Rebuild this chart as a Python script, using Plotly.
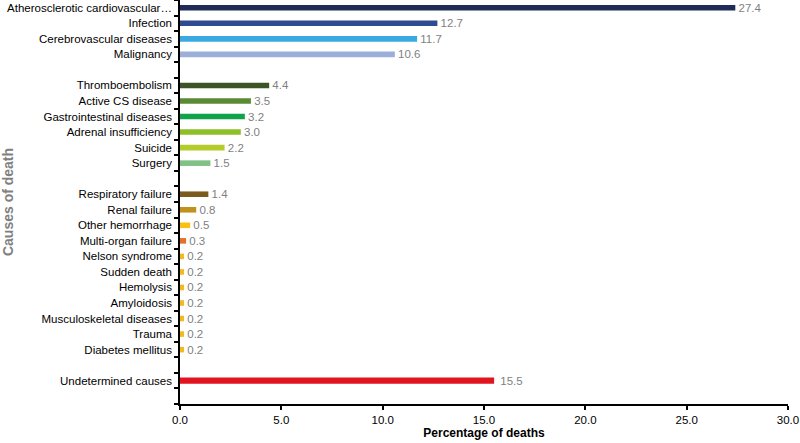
import plotly.graph_objects as go

categories = [
    "Atherosclerotic cardiovascular…", "Infection", "Cerebrovascular diseases", "Malignancy",
    "gap1",
    "Thromboembolism", "Active CS disease", "Gastrointestinal diseases", "Adrenal insufficiency",
    "Suicide", "Surgery",
    "gap2",
    "Respiratory failure", "Renal failure", "Other hemorrhage", "Multi-organ failure",
    "Nelson syndrome", "Sudden death", "Hemolysis", "Amyloidosis", "Musculoskeletal diseases",
    "Trauma", "Diabetes mellitus",
    "gap3",
    "Undetermined causes",
    "gap4",
]

causes = [
    "Atherosclerotic cardiovascular…", "Infection", "Cerebrovascular diseases", "Malignancy",
    "Thromboembolism", "Active CS disease", "Gastrointestinal diseases", "Adrenal insufficiency",
    "Suicide", "Surgery",
    "Respiratory failure", "Renal failure", "Other hemorrhage", "Multi-organ failure",
    "Nelson syndrome", "Sudden death", "Hemolysis", "Amyloidosis", "Musculoskeletal diseases",
    "Trauma", "Diabetes mellitus",
    "Undetermined causes",
]
percent = [27.4, 12.7, 11.7, 10.6,
           4.4, 3.5, 3.2, 3.0, 2.2, 1.5,
           1.4, 0.8, 0.5, 0.3, 0.2, 0.2, 0.2, 0.2, 0.2, 0.2, 0.2,
           15.5]
colors = ["#1f2c57", "#2f4c91", "#3aa9e0", "#9bafd9",
          "#3d5526", "#5b8a35", "#10a34a", "#8dbf26", "#b3cc2a", "#7fc283",
          "#7c5c1e", "#c0911c", "#f7c211", "#e5702a",
          "#f0bb1e", "#f0bb1e", "#f0bb1e", "#f0bb1e", "#f0bb1e", "#f0bb1e", "#f0bb1e",
          "#e2141f"]
bar_widths = [0.36] * 21 + [0.4]

x_ticks = [0, 5, 10, 15, 20, 25, 30]
tick_labels = [c if not c.startswith("gap") else "" for c in categories]

fig = go.Figure(go.Bar(
    x=percent, y=causes, orientation="h",
    marker=dict(color=colors, line=dict(width=0)),
    width=bar_widths,
    text=percent, texttemplate="\u00a0%{x:.1f}", textposition="outside",
    constraintext="none",
    textfont=dict(family="Liberation Sans, Arial", size=11.5, color="#7f7f7f"),
    cliponaxis=False,
))

fig.update_layout(
    width=800, height=443,
    margin=dict(l=180, r=12, t=0, b=39),
    plot_bgcolor="white", paper_bgcolor="white",
    showlegend=False,
    font=dict(family="Liberation Sans, Arial", size=11.5, color="black"),
    xaxis=dict(
        range=[0, 30], tickvals=x_ticks, ticktext=[f"{v:.1f}" for v in x_ticks],
        showgrid=False, zeroline=False, automargin=False,
        showline=True, linecolor="black", linewidth=1.5,
        ticks="outside", ticklen=4, tickcolor="black", tickwidth=1.5,
        tickfont=dict(size=11.5, color="black"),
        title=dict(text="<b>Percentage of deaths</b>", font=dict(size=12, color="black"), standoff=2),
    ),
    yaxis=dict(
        type="category", categoryorder="array", categoryarray=categories,
        range=[len(categories) - 0.5, -0.5], automargin=False,
        tickmode="array", tickvals=categories, ticktext=tick_labels,
        tickson="boundaries", ticklabelstandoff=4,
        showgrid=False, zeroline=False,
        showline=True, linecolor="black", linewidth=1.5,
        ticks="outside", ticklen=4, tickcolor="black", tickwidth=1.5,
        tickfont=dict(size=11.5, color="black"),
        title=dict(text="<b>Causes of death</b>", font=dict(size=14, color="#808080"), standoff=20),
    ),
)

fig.write_html("out.html", config={"displayModeBar": False},
               post_script="document.body.style.margin='0';")
